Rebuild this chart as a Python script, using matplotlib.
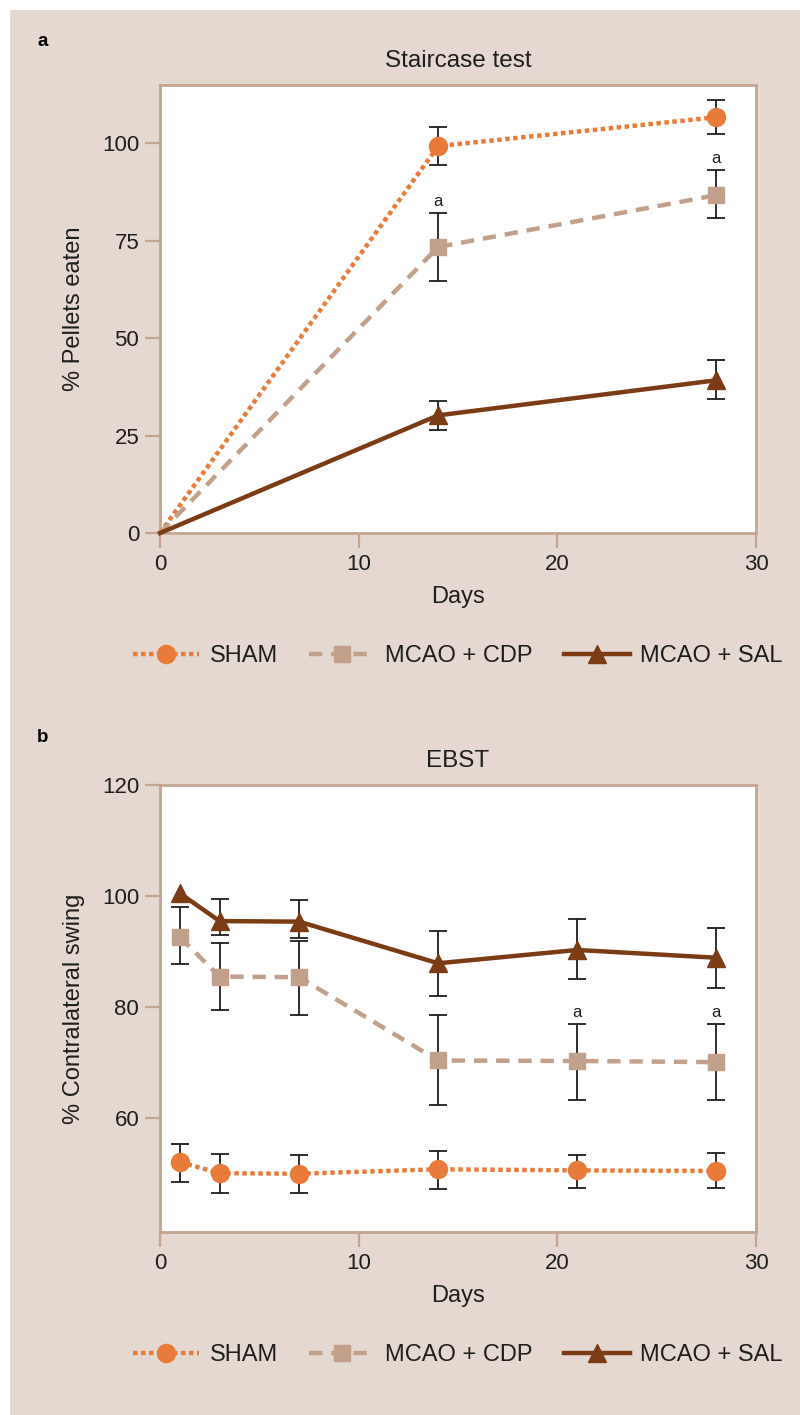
import numpy as np
import matplotlib
matplotlib.use('Agg')
import matplotlib.pyplot as plt
from matplotlib.patches import Rectangle

# panel a : staircase test (days 0, 14, 28)
days_a = [0, 14, 28]
sham_a = [0, 99.3, 106.7]
sham_a_lo = [np.nan, 94.4, 102.5]
sham_a_hi = [np.nan, 104.1, 111.2]
cdp_a = [0, 73.4, 86.7]
cdp_a_lo = [np.nan, 64.7, 80.9]
cdp_a_hi = [np.nan, 82.0, 93.1]
sal_a = [0, 30.2, 39.2]
sal_a_lo = [np.nan, 26.5, 34.5]
sal_a_hi = [np.nan, 33.8, 44.3]
sig_a = [14, 28]          # 'a' marks on the CDP series

# panel b : EBST
days_b = [1, 3, 7, 14, 21, 28]
sham_b = [52.1, 50.1, 50.0, 50.8, 50.6, 50.5]
sham_b_lo = [48.6, 46.6, 46.6, 47.3, 47.5, 47.4]
sham_b_hi = [55.4, 53.5, 53.4, 54.1, 53.4, 53.7]
cdp_b = [92.6, 85.5, 85.4, 70.4, 70.3, 70.1]
cdp_b_lo = [87.7, 79.5, 78.6, 62.3, 63.2, 63.3]
cdp_b_hi = [98.1, 91.6, 91.9, 78.6, 76.9, 76.9]
sal_b = [100.5, 95.5, 95.4, 87.9, 90.3, 88.9]
sal_b_lo = [np.nan, 93.0, 92.5, 82.0, 85.1, 83.5]
sal_b_hi = [np.nan, 99.5, 99.3, 93.7, 95.8, 94.2]
sig_b = [21, 28]

names = ['SHAM', 'MCAO + CDP', 'MCAO + SAL']

BG = '#e4d8d0'
FRAME = '#c4a592'
C_SHAM = '#e97b3a'
C_CDP = '#c1a18b'
C_SAL = '#7b3b14'
TXT = '#1e1e1e'

plt.rcParams['font.family'] = ['Liberation Sans', 'DejaVu Sans']


def bars(ax, x, y, lo, hi):
    y, lo, hi = np.array(y, float), np.array(lo, float), np.array(hi, float)
    ax.errorbar(x, y, yerr=[y - lo, hi - y], fmt='none', ecolor=TXT,
                elinewidth=1.3, capsize=6.2, capthick=1.3, zorder=2)


def panel(ax, days, series, title, ylabel, ylim, yticks, sig, cdp_hi, skip0):
    ax.set_facecolor('white')
    styles = [((0, (1, 0.8)), 'o', 13, C_SHAM),
              ((0, (3, 2)), 's', 11.5, C_CDP),
              ('-', '^', 12.5, C_SAL)]
    for (y, lo, hi), (ls, mk, ms, col), nm in zip(series, styles, names):
        bars(ax, days, y, lo, hi)
        mev = list(range(1, len(days))) if skip0 else None
        ax.plot(days, y, linestyle=ls, color=col, lw=3.2, marker=mk, ms=ms,
                mfc=col, mec=col, markevery=mev, label=nm, zorder=3,
                clip_on=False)
    for d in sig:
        i = list(days).index(d)
        ax.annotate('a', (d, cdp_hi[i]), xytext=(0, 3), textcoords='offset points',
                    ha='center', va='bottom', fontsize=12, color=TXT)
    ax.set_xlim(0, 30)
    ax.set_ylim(*ylim)
    ax.set_xticks([0, 10, 20, 30])
    ax.set_yticks(yticks)
    for s in ax.spines.values():
        s.set_color(FRAME)
        s.set_linewidth(2)
    ax.tick_params(length=11, width=1.6, color=FRAME, labelsize=16,
                   labelcolor=TXT, pad=4)
    ax.set_title(title, fontsize=17.5, color=TXT, pad=13)
    ax.set_xlabel('Days', fontsize=17, color=TXT, labelpad=8)
    ax.set_ylabel(ylabel, fontsize=17, color=TXT, labelpad=12)
    lg = ax.legend(loc='center', bbox_to_anchor=(0.5, -0.275), ncol=3,
                   frameon=False, fontsize=17, handlelength=2.8,
                   handletextpad=0.45, columnspacing=1.3, numpoints=1)
    for t in lg.get_texts():
        t.set_color(TXT)


fig = plt.figure(figsize=(8, 14.15), dpi=100, facecolor='white')
fig.patches.append(Rectangle((10 / 800, 0), 1, 1 - 10 / 1415, transform=fig.transFigure,
                             facecolor=BG, edgecolor='none', zorder=-10))

ax1 = fig.add_axes([0.2, 0.6233, 0.745, 0.3167])
panel(ax1, days_a,
      [(sham_a, sham_a_lo, sham_a_hi), (cdp_a, cdp_a_lo, cdp_a_hi),
       (sal_a, sal_a_lo, sal_a_hi)],
      'Staircase test', '% Pellets eaten', (0, 115), [0, 25, 50, 75, 100],
      sig_a, cdp_a_hi, True)

ax2 = fig.add_axes([0.2, 0.1293, 0.745, 0.3159])
panel(ax2, days_b,
      [(sham_b, sham_b_lo, sham_b_hi), (cdp_b, cdp_b_lo, cdp_b_hi),
       (sal_b, sal_b_lo, sal_b_hi)],
      'EBST', '% Contralateral swing', (39.5, 120), [60, 80, 100, 120],
      sig_b, cdp_b_hi, False)

fig.text(37 / 800, 1 - 42 / 1415, 'a', fontsize=13.5, fontweight='bold', va='center')
fig.text(37 / 800, 1 - 738 / 1415, 'b', fontsize=13.5, fontweight='bold', va='center')

fig.savefig('out.png', dpi=100, facecolor=fig.get_facecolor())
